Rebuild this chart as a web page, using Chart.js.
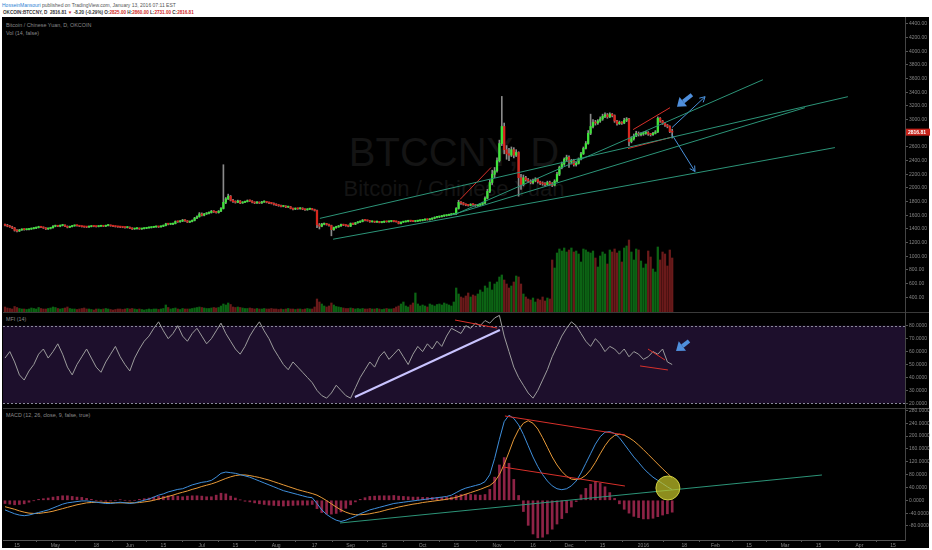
<!DOCTYPE html>
<html>
<head>
<meta charset="utf-8">
<script src="https://cdn.jsdelivr.net/npm/chart.js@4.4.1/dist/chart.umd.min.js"></script>
<style>
  html, body { margin: 0; padding: 0; background: #fff; }
  body { width: 932px; height: 550px; position: relative; overflow: hidden; font-family: 'Liberation Sans', Arial, sans-serif; }
  .abs { position: absolute; white-space: nowrap; }
  #h1 { left: 2px; top: 2px; font-size: 5px; color: #555; }
  #h1 .who { color: #2a7fd4; }
  #h2 { left: 3px; top: 9.5px; font-size: 4.6px; color: #333; font-weight: bold; }
  #h2 .r { color: #d0281e; }
  #box { left: 2px; top: 17px; width: 927px; height: 531px; background: #000; }
  .wm { left: 3px; width: 902px; text-align: center; color: #141414; }
  #wm1 { top: 132px; font-size: 40px; line-height: 40px; }
  #wm2 { top: 178px; font-size: 22px; line-height: 22px; }
  .lbl { left: 6px; font-size: 5.4px; color: #8a8a8a; }
  .sep { left: 3px; width: 926px; height: 1px; background: #3a3a3a; }
  canvas { position: absolute; left: 0; }
</style>
</head>
<body>
<div id="h1" class="abs"><span class="who">HosseinMansouri</span> published on TradingView.com, January 13, 2016 07:11 EST</div>
<div id="h2" class="abs">OKCOIN:BTCCNY, D&nbsp; 2816.81 <span class="r">▼</span> -8.20 (-0.29%) O:<span class="r">2825.00</span> H:<span class="r">2860.00</span> L:<span class="r">2731.00</span> C:<span class="r">2816.81</span></div>
<div id="box" class="abs"></div>
<div id="wm1" class="abs wm">BTCCNY, D</div>
<div id="wm2" class="abs wm">Bitcoin / Chinese Yuan</div>
<div class="abs lbl" style="top:22px">Bitcoin / Chinese Yuan, D, OKCOIN</div>
<div class="abs lbl" style="top:30px">Vol (14, false)</div>
<div class="abs sep" style="top:312px"></div>
<div class="abs lbl" style="top:316px">MFI (14)</div>
<div class="abs sep" style="top:408px"></div>
<div class="abs lbl" style="top:412px">MACD (12, 26, close, 9, false, true)</div>
<canvas id="price" width="932" height="295" style="top:17px"></canvas>
<canvas id="mfi" width="932" height="96" style="top:312px"></canvas>
<canvas id="macd" width="932" height="142" style="top:408px"></canvas>
<script>
// daily candles, day 0 = 2015-04-10, last = 2016-01-13
const firstOpen = 1460;
const closes = [
  1455,1440,1430,1415,1380,1370,1385,1395,1390,1392,1398,1405,1412,1420,1432,1425,1415,1400,1408,1418,1440,
  1445,1440,1450,1458,1440,1425,1435,1445,1450,1448,1440,1435,1430,1428,1435,1440,1438,1435,1440,1445,1440,1450,1455,1445,1440,1435,1430,1428,1425,1420,1425,
  1410,1400,1405,1410,1400,1405,1410,1415,1420,1425,1430,1435,1430,1440,1450,1475,1470,1470,1480,1510,1505,1515,1530,1520,1500,1510,1525,1560,1580,1620,
  1600,1620,1630,1640,1660,1650,1640,1660,1700,1790,1840,1880,1820,1800,1790,1810,1780,1790,1800,1815,1810,1790,1780,1790,1780,1795,1800,1790,1780,1775,1760,
  1750,1740,1730,1735,1720,1725,1700,1690,1700,1695,1705,1690,1680,1690,1695,1685,1670,1460,1440,1470,1475,1465,1450,1390,1420,1430,1445,1465,1455,1450,1440,
  1480,1470,1490,1500,1510,1530,1525,1520,1505,1510,1500,1510,1495,1500,1510,1505,1510,1515,1510,1505,1480,1500,1505,1510,1520,1515,1510,1515,1520,1525,
  1530,1540,1535,1545,1555,1570,1575,1580,1590,1595,1600,1610,1615,1620,1700,1790,1780,1760,1750,1745,1760,1755,1740,1750,1760,1780,1850,1950,2080,2200,2250,
  2400,2650,2900,2560,2500,2480,2560,2480,2520,2150,2050,2150,2120,2100,2080,2110,2130,2090,2070,2060,2050,2080,2060,2040,2100,2200,2300,2350,2420,2450,
  2380,2400,2340,2360,2420,2500,2580,2650,2800,2900,2960,2950,2980,3010,3050,3070,3040,3080,3060,2980,2940,2960,2950,2990,3010,2680,2720,2760,2800,2780,2790,
  2800,2810,2790,2780,2800,2820,3020,2980,2950,2920,2900,2825,2816.81
];
const highs = [
  1472,1468,1452,1440,1422,1392,1394,1402,1404,1400,1405,1414,1420,1428,1440,1438,1430,1420,1414,1425,1448,
  1456,1452,1458,1466,1462,1445,1442,1452,1458,1456,1452,1444,1440,1436,1442,1448,1446,1442,1446,1452,1450,1456,1464,1458,1450,1444,1440,1436,1434,1430,1432,
  1430,1418,1410,1416,1414,1410,1416,1420,1426,1430,1436,1442,1440,1446,1458,1484,1482,1478,1488,1518,1516,1522,1540,1536,1524,1516,1532,1570,1592,1640,
  1635,1628,1640,1650,1672,1668,1658,1670,1712,2340,1860,1910,1890,1835,1812,1822,1815,1800,1810,1825,1824,1815,1798,1800,1795,1805,1810,1805,1795,1788,1782,
  1768,1758,1748,1742,1740,1732,1730,1706,1708,1706,1712,1710,1696,1696,1702,1700,1690,1676,1480,1482,1486,1482,1470,1456,1428,1440,1452,1472,1470,1462,1458,
  1488,1486,1496,1508,1518,1538,1536,1530,1524,1516,1514,1516,1512,1506,1516,1514,1516,1522,1520,1514,1510,1506,1512,1516,1528,1526,1520,1520,1526,1532,
  1538,1548,1546,1552,1562,1578,1584,1588,1598,1604,1608,1618,1622,1630,1712,1820,1800,1788,1768,1758,1770,1768,1760,1756,1770,1792,1870,1980,2120,2260,2300,
  2440,2700,3340,2950,2620,2580,2600,2590,2560,2530,2200,2190,2170,2140,2120,2130,2150,2140,2100,2090,2080,2100,2100,2080,2120,2230,2320,2380,2440,2480,
  2470,2420,2420,2380,2440,2520,2600,2680,2840,3080,3000,2990,3000,3040,3080,3100,3090,3100,3090,3070,2990,2980,2970,3020,3030,3020,2750,2790,2830,2820,2810,
  2820,2830,2825,2800,2815,2840,3040,3030,2990,2960,2930,2910,2860
];
const lows = [
  1445,1432,1424,1405,1368,1358,1362,1380,1382,1384,1386,1394,1400,1405,1414,1418,1408,1392,1394,1400,1412,
  1432,1434,1432,1444,1432,1416,1420,1430,1440,1440,1434,1428,1424,1420,1422,1430,1432,1428,1430,1436,1434,1436,1444,1440,1434,1428,1424,1420,1418,1412,1414,
  1404,1392,1394,1398,1394,1394,1400,1404,1410,1414,1420,1424,1422,1426,1434,1445,1460,1462,1464,1474,1496,1498,1508,1512,1494,1494,1504,1518,1550,1572,
  1590,1592,1612,1622,1632,1642,1632,1632,1652,1692,1770,1830,1810,1790,1778,1784,1770,1775,1784,1795,1802,1782,1770,1774,1772,1774,1788,1782,1772,1766,1750,
  1742,1732,1722,1724,1712,1714,1694,1680,1684,1688,1690,1682,1672,1674,1684,1678,1662,1420,1400,1432,1460,1456,1440,1300,1380,1410,1424,1438,1448,1440,1432,
  1434,1464,1464,1484,1494,1504,1518,1514,1498,1500,1494,1496,1490,1490,1494,1500,1500,1504,1504,1500,1474,1474,1494,1500,1504,1508,1506,1504,1508,1514,
  1518,1524,1528,1530,1538,1548,1562,1566,1574,1582,1588,1594,1602,1608,1612,1690,1760,1750,1740,1735,1738,1745,1730,1732,1742,1752,1770,1840,1930,2050,2150,
  2230,2380,2620,2500,2420,2400,2460,2440,2460,1880,1980,2030,2100,2080,2060,2060,2090,2070,2050,2040,2030,2040,2040,2020,2030,2090,2180,2280,2330,2400,
  2300,2350,2320,2320,2350,2410,2490,2570,2640,2780,2880,2920,2930,2960,2990,3030,3020,3030,3040,2960,2920,2930,2930,2940,2970,2620,2660,2700,2750,2760,2760,
  2770,2785,2770,2760,2770,2790,2810,2960,2930,2900,2880,2810,2731
];
// volume, millions
const volumes = [
  0.5,0.4,0.35,0.3,0.55,0.45,0.35,0.3,0.3,0.25,0.3,0.4,0.35,0.3,0.45,0.35,0.3,0.3,0.35,0.4,0.5,
  0.45,0.35,0.3,0.35,0.4,0.5,0.35,0.3,0.3,0.25,0.3,0.35,0.4,0.3,0.3,0.25,0.2,0.3,0.3,0.25,0.3,0.35,0.3,0.25,0.2,0.25,0.3,0.3,0.25,0.3,0.35,
  0.3,0.35,0.3,0.25,0.3,0.25,0.2,0.25,0.3,0.25,0.3,0.3,0.25,0.3,0.35,0.7,0.45,0.3,0.35,0.4,0.3,0.25,0.35,0.3,0.3,0.3,0.35,0.4,0.45,0.5,
  0.45,0.4,0.35,0.35,0.4,0.45,0.4,0.45,0.6,0.8,0.7,0.9,0.75,0.5,0.45,0.5,0.45,0.4,0.35,0.35,0.4,0.35,0.3,0.35,0.3,0.3,0.35,0.3,0.3,0.35,0.3,
  0.3,0.25,0.3,0.25,0.3,0.35,0.3,0.3,0.25,0.3,0.3,0.25,0.3,0.35,0.3,0.3,0.5,1.3,1.0,0.8,0.6,0.5,0.6,0.9,0.7,0.55,0.5,0.45,0.4,0.35,0.35,
  0.4,0.35,0.3,0.35,0.3,0.35,0.3,0.3,0.35,0.3,0.3,0.35,0.3,0.25,0.3,0.35,0.3,0.3,0.35,0.5,0.6,0.8,1.0,0.6,0.5,0.7,0.9,1.9,0.8,0.6,
  0.7,0.6,0.5,0.8,0.7,0.6,0.75,0.8,0.7,0.9,0.8,0.7,0.6,1.0,2.4,1.8,1.5,1.4,1.6,1.9,1.5,1.7,1.6,1.8,2.2,2.0,2.6,2.4,3.0,2.2,2.8,
  3.0,3.5,3.7,3.2,2.8,2.4,2.6,3.0,3.6,3.5,2.8,1.8,1.5,1.3,1.2,1.4,1.0,1.3,1.2,1.5,1.1,1.4,1.3,5.2,4.4,5.9,6.3,6.1,6.4,6.0,
  6.2,6.4,6.0,6.1,5.8,5.0,6.3,6.2,6.0,5.9,6.1,5.4,4.5,5.6,6.0,5.8,4.8,6.2,6.0,6.3,5.9,6.1,5.0,6.4,6.6,7.2,6.0,5.2,6.3,6.2,5.1,
  4.4,4.8,6.1,5.5,4.3,4.0,6.5,5.2,6.0,5.8,4.6,6.2,5.4
];
// indicators, read every 2nd day
const mfi = [
  55,60,52,42,38,45,50,58,62,55, 60,66,58,48,42,50,56,62,55,48,
  44,52,58,64,56,50,45,55,62,68, 72,78,83,76,70,74,80,72,68,74,
  78,72,66,70,76,82,74,68,62,58, 64,72,78,83,76,70,62,56,50,46,
  52,48,44,40,36,30,26,24,28,34, 30,26,24,32,40,46,52,48,56,60,
  54,58,62,56,50,58,64,60,66,62, 68,64,72,78,76,74,80,78,82,80,
  84,82,86,88,72,60,48,40,34,28, 24,30,38,46,56,64,72,78,83,80,
  74,68,64,70,66,60,64,62,58,62, 56,60,58,54,56,60,58,62,52,50
];
const macd = [
  -30,-36,-42,-46,-48,-46,-42,-38,-34,-30, -24,-18,-12,-8,-6,-4,-2,-2,-4,-6,
  -8,-10,-10,-8,-6,-8,-10,-8,-4,0, 4,10,16,20,26,30,34,36,42,48,
  52,56,58,62,72,84,88,86,84,80, 76,72,66,60,54,48,42,36,30,26,
  22,18,14,10,8,-10,-30,-44,-54,-62, -66,-62,-56,-50,-42,-36,-30,-26,-22,-18,
  -14,-10,-8,-6,-4,-2,0,2,4,6, 8,10,12,16,24,32,38,42,46,50,
  58,80,130,190,245,265,255,235,205,170, 135,105,80,60,45,36,33,36,45,60,
  85,115,145,175,198,212,214,208,195,175, 155,135,118,100,85,72,62,52,42,33
];
const signal = [
  -20,-24,-28,-33,-37,-40,-41,-41,-39,-37, -34,-30,-26,-22,-18,-14,-11,-8,-7,-6,
  -6,-7,-8,-8,-8,-8,-8,-8,-7,-5, -3,0,4,8,12,16,21,25,29,34,
  38,43,47,51,56,62,68,73,77,79, 79,77,74,71,67,63,58,53,48,43,
  38,33,29,25,21,16,8,-1,-11,-21, -30,-37,-42,-45,-45,-44,-42,-39,-36,-32,
  -28,-25,-21,-18,-15,-12,-10,-7,-5,-3, -1,1,3,6,9,14,19,24,29,34,
  40,46,58,80,112,150,190,220,240,248, 240,222,195,165,135,110,90,75,66,64,
  68,78,95,118,145,170,190,202,206,203, 195,185,172,158,143,128,113,98,84,70
];
const hist = [
  -10,-12,-14,-13,-11,-6,-1,3,5,7, 10,12,14,14,12,10,9,6,3,0,
  -2,-3,-2,0,2,0,-2,0,3,5, 7,10,12,12,14,14,13,11,13,14,
  14,13,11,11,16,22,20,13,7,1, -3,-5,-8,-11,-13,-15,-16,-17,-18,-17,
  -16,-15,-15,-15,-13,-26,-38,-43,-43,-41, -36,-25,-14,-5,3,8,12,13,14,14,
  14,15,13,12,11,10,10,9,9,9, 9,9,9,10,15,18,19,18,17,16,
  18,34,72,110,133,115,65,15,-35,-78, -105,-117,-115,-105,-90,-74,-57,-39,-21,-4,
  17,37,50,57,53,42,24,6,-11,-28, -40,-50,-54,-58,-58,-56,-51,-46,-42,-37
];

const tickDays = [5,21,38,52,66,82,96,113,129,144,158,174,188,205,220,235,249,266,283,296,310,325,339,356,370];
const tickNames = ['15','May','18','Jun','15','Jul','15','Aug','17','Sep','15','Oct','15','Nov','16','Dec','15','2016','18','Feb','15','Mar','15','Apr','15'];
const priceTicks = [400,600,800,1000,1200,1400,1600,1800,2000,2200,2400,2600,2800,3000,3200,3400,3600,3800,4000,4200,4400];
const mfiTicks = [20,30,40,50,60,70,80];
const macdTicks = [-80,-40,0,40,80,120,160,200,240,280];
const mfiBand = [20, 80];

// drawings, [day, value] end points
const priceGreenLines = [
  [[131.2,1555],[351.2,3336]],
  [[136.7,1250],[345.8,2591]],
  [[185.4,1598],[333.3,3175]],
  [[187.5,1613],[315.8,3584]]
];
const priceRedLines = [
  [[189.6,1832],[202.5,2299]],
  [[261.7,2854],[277.1,3175]],
  [[259.6,2577],[277.1,2737]]
];
const priceBlueArrows = [
  [[277.9,2883],[291.7,3336]],
  [[277.9,2781],[287.5,2241]]
];
const priceMarker = [[286.2,3365],[280,3190]];
const mfiLavender = [[145.8,24.9],[206.2,76.7]];
const mfiRedLines = [
  [[187.5,84.4],[205,78.2]],
  [[267.9,62],[275,53.5]],
  [[264.6,48.9],[276.2,45.8]]
];
const mfiMarker = [[285,68.2],[279.6,60.5]];
const macdRedLines = [
  [[208.3,262.6],[258.3,203.4]],
  [[207.5,103.7],[258.3,44.5]]
];
const macdGreenLine = [[139.6,-70.7],[340.4,78.8]];
const macdCircle = [276.2, 38.3];

const X_MIN = -0.833, X_MAX = 375;
const FONT = "'Liberation Sans', Arial, sans-serif";
const UP = '#3ee63a', DOWN = '#d8261e';
const TICK_COLOR = '#858585';
Chart.defaults.font.family = FONT;

const opens = closes.map((c, i) => (i === 0 ? firstOpen : closes[i - 1]));
const isUp = closes.map((c, i) => c >= opens[i]);
const pts = pair => pair.map(p => ({ x: p[0], y: p[1] }));
const every2 = arr => arr.map((v, k) => ({ x: k * 2, y: v }));

function seg(pair, color, width, extra) {
  return Object.assign({
    type: 'line', data: pts(pair), borderColor: color, borderWidth: width,
    pointRadius: 0, fill: false, order: 1
  }, extra || {});
}

function yAxis(min, max, ticksArr, digits) {
  return {
    position: 'right', min, max,
    afterFit: s => { s.width = 27; s.paddingTop = 0; s.paddingBottom = 0; },
    afterBuildTicks: s => { s.ticks = ticksArr.map(v => ({ value: v })); },
    ticks: { color: TICK_COLOR, font: { size: 5 }, padding: 1, callback: v => Number(v).toFixed(digits) },
    grid: { drawOnChartArea: false, color: '#555', tickLength: 3 },
    border: { color: '#444' }
  };
}

const hiddenX = { type: 'linear', min: X_MIN, max: X_MAX, display: false, offset: false };

const baseOptions = {
  responsive: false, animation: false, devicePixelRatio: 1, events: [],
  layout: { autoPadding: false, padding: { left: 3, right: 0, top: 0, bottom: 0 } },
  plugins: { legend: { display: false }, tooltip: { enabled: false } }
};

const arrowHeads = {
  id: 'arrowHeads',
  afterDatasetsDraw(chart) {
    const ctx = chart.ctx;
    chart.data.datasets.forEach((ds, di) => {
      const meta = chart.getDatasetMeta(di).data;
      if (ds.arrowHead) {
        const a = meta[0], b = meta[1];
        const ang = Math.atan2(b.y - a.y, b.x - a.x);
        ctx.save();
        ctx.strokeStyle = ds.borderColor;
        ctx.lineWidth = 1;
        [-0.5, 0.5].forEach(d => {
          ctx.beginPath();
          ctx.moveTo(b.x, b.y);
          ctx.lineTo(b.x - 6 * Math.cos(ang + d), b.y - 6 * Math.sin(ang + d));
          ctx.stroke();
        });
        ctx.restore();
      }
      if (ds.fatArrow) {
        const tail = meta[0], tip = meta[1];
        const ang = Math.atan2(tip.y - tail.y, tip.x - tail.x);
        const bx = tip.x - 8 * Math.cos(ang), by = tip.y - 8 * Math.sin(ang);
        ctx.save();
        ctx.strokeStyle = ds.borderColor;
        ctx.fillStyle = ds.borderColor;
        ctx.lineWidth = 4;
        ctx.beginPath(); ctx.moveTo(tail.x, tail.y); ctx.lineTo(bx, by); ctx.stroke();
        ctx.beginPath();
        ctx.moveTo(tip.x, tip.y);
        ctx.lineTo(bx + 6 * Math.sin(ang), by - 6 * Math.cos(ang));
        ctx.lineTo(bx - 6 * Math.sin(ang), by + 6 * Math.cos(ang));
        ctx.closePath();
        ctx.fill();
        ctx.restore();
      }
    });
  }
};

const lastPriceLabel = {
  id: 'lastPriceLabel',
  afterDraw(chart) {
    const ctx = chart.ctx;
    const last = closes[closes.length - 1];
    const y = chart.scales.y.getPixelForValue(last);
    const x = chart.chartArea.right + 1;
    ctx.save();
    ctx.fillStyle = '#c8241c';
    ctx.fillRect(x, y - 3.5, 24, 7);
    ctx.fillStyle = '#fff';
    ctx.font = 'bold 5px ' + FONT;
    ctx.textBaseline = 'middle';
    ctx.fillText(last.toFixed(2), x + 2, y + 0.3);
    ctx.restore();
  }
};

const mfiBandPlugin = {
  id: 'mfiBand',
  beforeDatasetsDraw(chart) {
    const ctx = chart.ctx, y = chart.scales.y, { left, right } = chart.chartArea;
    const top = y.getPixelForValue(mfiBand[1]), bottom = y.getPixelForValue(mfiBand[0]);
    ctx.save();
    ctx.fillStyle = '#1d0f2c';
    ctx.fillRect(left, top, right - left, bottom - top);
    ctx.strokeStyle = '#8a8a9a';
    ctx.lineWidth = 1;
    ctx.setLineDash([2, 2]);
    [top, bottom].forEach(v => {
      ctx.beginPath(); ctx.moveTo(left, Math.round(v) + 0.5); ctx.lineTo(right, Math.round(v) + 0.5); ctx.stroke();
    });
    ctx.restore();
  }
};

// price pane: candles, volume, drawings
const priceDatasets = [
  {
    type: 'bar', yAxisID: 'yv', order: 10, grouped: false, barThickness: 1.6,
    data: volumes.map((v, i) => ({ x: i, y: v })),
    backgroundColor: isUp.map(u => (u ? '#0c6414' : '#6a1a1a'))
  },
  {
    type: 'bar', yAxisID: 'y', order: 5, grouped: false, barThickness: 1,
    data: closes.map((c, i) => ({ x: i, y: [lows[i], highs[i]] })),
    backgroundColor: '#8a8a8a'
  },
  {
    type: 'bar', yAxisID: 'y', order: 4, grouped: false, barThickness: 1.6, minBarLength: 1,
    data: closes.map((c, i) => ({ x: i, y: [opens[i], c] })),
    backgroundColor: isUp.map(u => (u ? UP : DOWN))
  }
];
priceGreenLines.forEach(l => priceDatasets.push(seg(l, '#2c9478', 1, { yAxisID: 'y' })));
priceRedLines.forEach(l => priceDatasets.push(seg(l, '#d8302a', 1, { yAxisID: 'y' })));
priceBlueArrows.forEach(l => priceDatasets.push(seg(l, '#4a90da', 1, { yAxisID: 'y', arrowHead: true })));
priceDatasets.push(seg(priceMarker, '#4f8fdc', 0, { yAxisID: 'y', showLine: false, fatArrow: true }));

new Chart(document.getElementById('price'), {
  type: 'bar',
  data: { datasets: priceDatasets },
  options: Object.assign({}, baseOptions, {
    scales: {
      x: hiddenX,
      y: yAxis(185, 4502, priceTicks, 2),
      yv: { display: false, min: 0, max: 29.5 }
    }
  }),
  plugins: [arrowHeads, lastPriceLabel]
});

// MFI pane
const mfiDatasets = [
  seg([[0, 0], [0, 0]], '#000', 0, { data: every2(mfi), borderColor: '#9c9c9c', borderWidth: 1, order: 3 }),
  seg(mfiLavender, '#c9c3ff', 2)
];
mfiRedLines.forEach(l => mfiDatasets.push(seg(l, '#d8302a', 1)));
mfiDatasets.push(seg(mfiMarker, '#4f8fdc', 0, { showLine: false, fatArrow: true }));

new Chart(document.getElementById('mfi'), {
  type: 'line',
  data: { datasets: mfiDatasets },
  options: Object.assign({}, baseOptions, {
    scales: { x: hiddenX, y: yAxis(16.4, 90.6, mfiTicks, 4) }
  }),
  plugins: [mfiBandPlugin, arrowHeads]
});

// MACD pane
const macdDatasets = [
  {
    type: 'bar', order: 5, grouped: false, barThickness: 2,
    data: every2(hist), backgroundColor: '#8e2346'
  },
  seg([[0, 0], [0, 0]], '#000', 1, { data: every2(macd), borderColor: '#3f8fdc', order: 3 }),
  seg([[0, 0], [0, 0]], '#000', 1, { data: every2(signal), borderColor: '#e89a38', order: 3 }),
  seg(macdGreenLine, '#2c9478', 1)
];
macdRedLines.forEach(l => macdDatasets.push(seg(l, '#d8302a', 1)));
macdDatasets.push({
  type: 'scatter', order: 0, data: [{ x: macdCircle[0], y: macdCircle[1] }],
  pointRadius: 12, backgroundColor: 'rgba(196,196,40,0.72)', borderColor: 'rgba(215,215,70,0.9)', borderWidth: 1
});

new Chart(document.getElementById('macd'), {
  type: 'bar',
  data: { datasets: macdDatasets },
  options: Object.assign({}, baseOptions, {
    scales: {
      x: {
        type: 'linear', min: X_MIN, max: X_MAX, offset: false, position: 'bottom',
        afterFit: s => { s.height = 10; s.paddingLeft = 0; s.paddingRight = 0; },
        afterBuildTicks: s => { s.ticks = tickDays.map(v => ({ value: v })); },
        ticks: { autoSkip: false, maxRotation: 0, color: TICK_COLOR, font: { size: 5 }, padding: 1, callback: (v, i) => tickNames[i] },
        grid: { drawOnChartArea: false, color: '#555', tickLength: 2 },
        border: { color: '#555' }
      },
      y: yAxis(-123.7, 287.5, macdTicks, 4)
    }
  })
});
</script>
</body>
</html>
